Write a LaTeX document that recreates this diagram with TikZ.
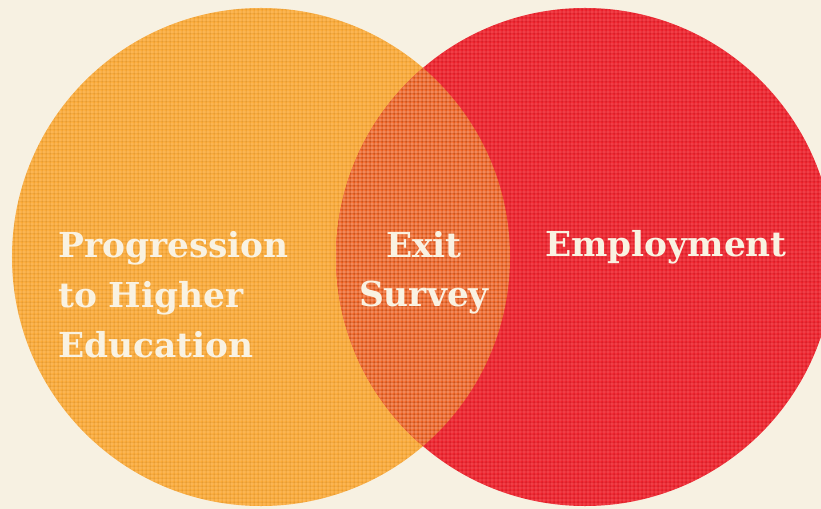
\documentclass[tikz,border=0pt]{standalone}
\usepackage{fontspec}
\setmainfont{DejaVu Serif}
\usetikzlibrary{positioning}
\definecolor{paper}{RGB}{247,241,226}
\definecolor{orng}{RGB}{251,170,56}
\definecolor{rd}{RGB}{238,34,44}
\definecolor{ovl}{RGB}{242,100,36}
\definecolor{cream}{RGB}{249,242,226}

\begin{document}
\begin{tikzpicture}[x=1bp, y=-1bp,
    vlabel/.style={text=cream, inner sep=0pt, font=\bfseries\fontsize{34.5}{50}\selectfont},
    weave/.style={white, opacity=0.07, line width=1.3bp},
    weft/.style={black, opacity=0.04, line width=1bp}]

    \useasboundingbox (0,0) rectangle (821,509);
    \fill[paper] (0,0) rectangle (821,509);

    % Circles
    \fill[orng] (261,257) circle (249bp);
    \fill[rd] (585,257) circle (249bp);
    \begin{scope}
        \clip (261,257) circle (249bp);
        \fill[ovl] (585,257) circle (249bp);
    \end{scope}

    % Texture
    \foreach \cx in {261,585} {
        \begin{scope}
            \clip (\cx,257) circle (249bp);
            \foreach \i in {0,4,...,820} {
                \draw[weave] (\i,0) -- (\i,509);
                \draw[weft] (\i+2,0) -- (\i+2,509);
            }
            \foreach \j in {0,4,...,508} {
                \draw[weave] (0,\j) -- (821,\j);
                \draw[weft] (0,\j+2) -- (821,\j+2);
            }
        \end{scope}
    }

    % Labels
    \node (prog) [vlabel, align=left, anchor=base west] at (58,357) {Progression\\to Higher\\Education};
    \node (exit) [vlabel, align=center, anchor=base] at (424,307) {Exit\\Survey};
    \node (emp) [vlabel, anchor=base west] at (545,257) {Employment};

\end{tikzpicture}
\end{document}
